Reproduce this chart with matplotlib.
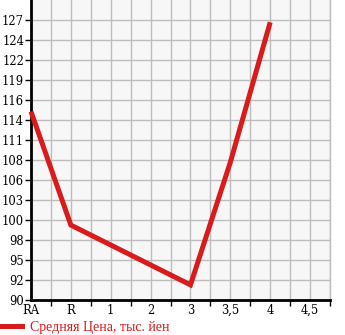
import numpy as np
import matplotlib
matplotlib.use('Agg')
import matplotlib.pyplot as plt
from matplotlib.lines import Line2D

# categories on the x axis and average price (thousand yen)
grades = ['RA', 'R', '1', '2', '3', '3,5', '4', '4,5']
prices = [114.9, 99.9, np.nan, np.nan, 92.0, 108.2, 126.7, np.nan]
ytick_labels = ['90', '92', '95', '98', '100', '103', '106', '108',
                '111', '114', '116', '119', '122', '124', '127']
legend_label = 'Средняя Цена, тыс. йен'

red = '#d81c1c'
grid_col = '#bdbdbd'

fig = plt.figure(figsize=(3.45, 3.35), dpi=100)
ax = fig.add_axes([31/345, 35/335, 299/345, 300/335])
ax.set_facecolor('#f7f7f7')

xpos = np.arange(len(grades))
prices = np.array(prices)
ok = ~np.isnan(prices)
ax.plot(xpos[ok], prices[ok], color=red, lw=3.6, solid_capstyle='butt',
        solid_joinstyle='miter', zorder=3, clip_on=False)

ystep = 37/14
yt = 90 + ystep*np.arange(len(ytick_labels))
ax.set_ylim(90, 90 + ystep*15)
ax.set_xlim(0, 7.5)

ax.set_yticks(yt)
ax.set_yticklabels(ytick_labels, family='DejaVu Serif', fontsize=8.3)
ax.set_xticks(xpos)
ax.set_xticklabels(grades, family='DejaVu Serif', fontsize=8.3)
ax.set_xticks(np.arange(0.5, 7.6, 1.0), minor=True)

ax.tick_params(axis='x', which='major', length=0, pad=3)
ax.tick_params(axis='x', which='minor', length=4, width=1, color='black')
ax.tick_params(axis='y', length=4, width=1, color='black', pad=1)

ax.grid(True, which='both', axis='x', color=grid_col, lw=1)
ax.grid(True, which='major', axis='y', color=grid_col, lw=1)
ax.set_axisbelow(True)

for s in ['left', 'bottom']:
    ax.spines[s].set_linewidth(2)
    ax.spines[s].set_color('black')
ax.spines['right'].set_color(grid_col)
ax.spines['right'].set_linewidth(1)
ax.spines['top'].set_visible(False)

h = Line2D([], [], color=red, lw=3.6)
leg = fig.legend([h], [legend_label], loc='center left', bbox_to_anchor=(0, 8/335),
                 frameon=False, handlelength=1.6, handletextpad=0.55,
                 borderpad=0, borderaxespad=0,
                 prop={'family': 'Liberation Serif', 'size': 10})
for t in leg.get_texts():
    t.set_color(red)

fig.savefig('out.png', dpi=100)
